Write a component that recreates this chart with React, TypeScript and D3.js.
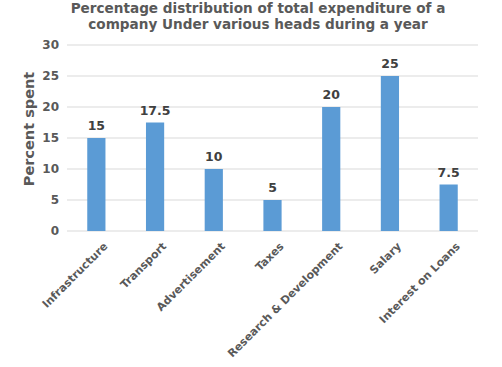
import React from "react";
import * as d3 from "d3";

const categories = ["Infrastructure", "Transport", "Advertisement", "Taxes", "Research & Development", "Salary", "Interest on Loans"];
const values = [15, 17.5, 10, 5, 20, 25, 7.5];
const yTicks = [0, 5, 10, 15, 20, 25, 30];
const titleLines = ["Percentage distribution of total expenditure of a", "company Under various heads during a year"];

export default function App() {
  const W = 502, H = 367;
  const left = 67, right = 478, top = 45, bottom = 231;
  const x = d3.scaleBand<string>().domain(categories).range([left, right]).paddingInner(0.69).paddingOuter(0.345);
  const y = d3.scaleLinear().domain([0, 30]).range([bottom, top]);
  const font = "'DejaVu Sans', sans-serif";
  const gray = "#595959";
  return (
    <svg width={W} height={H} style={{ position: "absolute", left: 0, top: 0, background: "#fff" }} fontFamily={font}>
      {titleLines.map((t, i) => (
        <text key={i} x={258} y={13 + i * 16} textAnchor="middle" fontSize={13.6} fontWeight="bold" fill={gray}>{t}</text>
      ))}
      {yTicks.map(t => (
        <g key={t}>
          <line x1={left} x2={right} y1={y(t)} y2={y(t)} stroke="#d9d9d9" strokeWidth={1} />
          <text x={59} y={y(t)} dy="0.35em" textAnchor="end" fontSize={12} fontWeight="bold" fill={gray}>{t}</text>
        </g>
      ))}
      <text transform={`translate(34,129) rotate(-90)`} textAnchor="middle" fontSize={14.5} fontWeight="bold" fill={gray}>Percent spent</text>
      {categories.map((c, i) => {
        const bx = x(c)!;
        const cx = bx + x.bandwidth() / 2;
        return (
          <g key={c}>
            <rect x={bx} y={y(values[i])} width={x.bandwidth()} height={bottom - y(values[i])} fill="#5b9bd5" />
            <text x={cx} y={y(values[i]) - 8} textAnchor="middle" fontSize={12.5} fontWeight="bold" fill="#404040">{values[i]}</text>
            <text transform={`translate(${cx + 12},${bottom + 16}) rotate(-45)`} textAnchor="end" fontSize={11} fontWeight="bold" fill={gray}>{c}</text>
          </g>
        );
      })}
    </svg>
  );
}
